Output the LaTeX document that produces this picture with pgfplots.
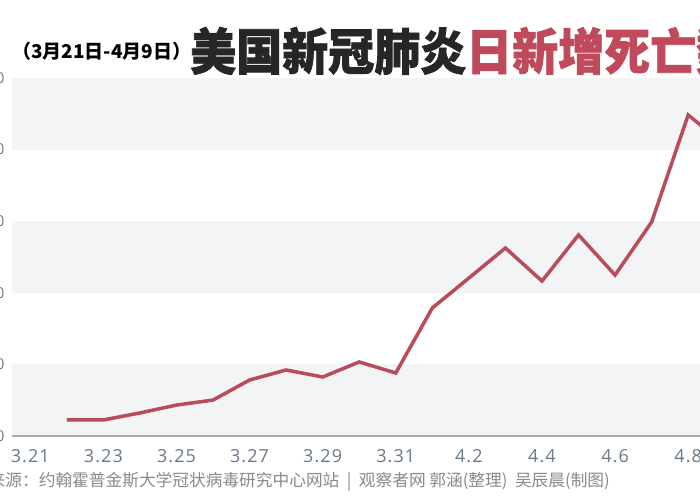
\documentclass[border=0pt]{standalone}
\usepackage{pgfplots}
\pgfplotsset{compat=1.18}
\usepackage{fontspec}
\setmainfont{Open Sans}
\newfontfamily\tickfont{Open Sans}[LetterSpace=6]
\newfontfamily\cjk{Noto Sans CJK SC}
\newfontfamily\cjkheavy{Noto Sans CJK SC}[BoldFeatures={FakeBold=1.5}]
\definecolor{linered}{HTML}{B94B5B}
\definecolor{titlered}{HTML}{C04A5B}
\definecolor{band}{HTML}{F3F4F6}
\definecolor{ticklab}{HTML}{6B7A89}
\definecolor{foot}{HTML}{8A8A8A}
\definecolor{axisgray}{HTML}{A8ABAF}
\begin{document}
\begin{tikzpicture}
\begin{scope}
\clip (0pt,0pt) rectangle (700pt,500pt);
\fill[white] (0pt,0pt) rectangle (700pt,500pt);
\begin{axis}[
  at={(12pt,64pt)}, anchor=south west,
  scale only axis, width=731pt, height=358pt,
  xmin=-0.5, xmax=19.5, ymin=0, ymax=2500,
  axis line style={draw=none},
  major tick length=0pt,
  xtick={0,2,...,18},
  xticklabels={3.21,3.23,3.25,3.27,3.29,3.31,4.2,4.4,4.6,4.8},
  ytick={0,500,...,2500},
  yticklabels={0,500,1000,1500,2000,2500},
  /pgf/number format/assume math mode=true,
  xticklabel style={font=\tickfont\fontsize{18}{18}\selectfont, text=ticklab, yshift=-10pt},
  yticklabel style={font=\fontsize{15}{15}\selectfont, text=ticklab, xshift=-4pt},
  clip=false,
]
\fill[band] (axis cs:-0.5,0) rectangle (axis cs:19.5,500);
\fill[band] (axis cs:-0.5,1000) rectangle (axis cs:19.5,1500);
\fill[band] (axis cs:-0.5,2000) rectangle (axis cs:19.5,2500);
\draw[axisgray, line width=1.2pt] (axis cs:-0.5,0) -- (axis cs:19.5,0);
\addplot[linered, line width=3.5pt, mark=none] coordinates {
 (1,112) (2,112) (3,161) (4,216) (5,251) (6,391) (7,461) (8,412) (9,517) (10,440)
 (11,894) (12,1103) (13,1313) (14,1082) (15,1404) (16,1124) (17,1494) (18,2242) (19,2032)
};
\end{axis}
\node[anchor=west, inner sep=0pt] at (12pt,449pt) {\cjk\bfseries\fontsize{19}{19}\selectfont （3月21日-4月9日）};
\node[anchor=west, inner sep=0pt] at (190pt,449pt) {\scalebox{1}[1.08]{\cjkheavy\bfseries\fontsize{46}{46}\selectfont \textcolor{black!85}{美国新冠肺炎}\textcolor{titlered}{日新增死亡数}}};
\node[anchor=base east, inner sep=0pt] at (610pt,14pt) {\cjk\fontsize{16.7}{16.7}\selectfont\color{foot}来源：约翰霍普金斯大学冠状病毒研究中心网站\ \ |\ \ 观察者网 郭涵(整理)\ \ 吴辰晨(制图)};
\end{scope}
\pgfresetboundingbox
\useasboundingbox (0pt,0pt) rectangle (700pt,500pt);
\end{tikzpicture}
\end{document}
